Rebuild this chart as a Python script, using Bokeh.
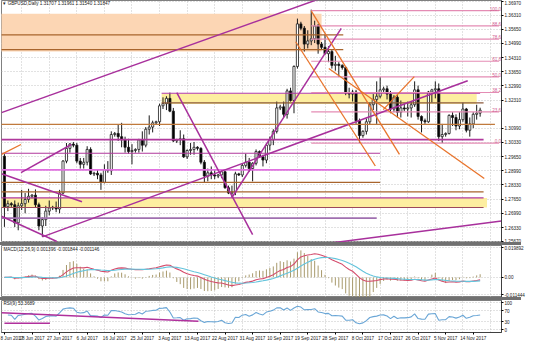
import numpy as np
from bokeh.plotting import figure
from bokeh.layouts import column
from bokeh.models import ColumnDataSource, FixedTicker, Range1d, Label, Spacer, NumeralTickFormatter
from bokeh.embed import file_html
from bokeh.resources import INLINE
from bokeh.core.properties import value

# ---------------- data (GBPUSD daily) ----------------
opens = [1.2968,1.2731,1.2745,1.2740,1.2655,1.2735,1.2745,1.2765,1.2780,1.2785,
         1.2740,1.2640,1.2670,1.2710,1.2725,1.2728,1.2720,1.2795,1.2945,1.3005,
         1.3025,1.3020,1.2945,1.2930,1.2940,1.3000,1.2885,1.2888,1.2880,1.2845,
         1.2905,1.2900,1.3070,1.3075,1.3060,1.3045,1.3010,1.2990,1.2995,1.3000,
         1.3045,1.3020,1.3095,1.3105,1.3125,1.3130,1.3205,1.3215,1.3240,1.3180,
         1.3040,1.3045,1.3050,1.2965,1.2995,1.3000,1.3010,1.3005,1.2940,1.2875,
         1.2890,1.2880,1.2875,1.2880,1.2895,1.2820,1.2795,1.2800,1.2885,1.2880,
         1.2925,1.2940,1.2910,1.2935,1.2990,1.2965,1.2950,1.3020,1.3045,1.3085,
         1.3195,1.3200,1.3165,1.3275,1.3230,1.3390,1.3590,1.3570,1.3495,1.3510,
         1.3520,1.3580,1.3495,1.3480,1.3450,1.3460,1.3395,1.3400,1.3395,1.3385,
         1.3265,1.3260,1.3270,1.3135,1.3065,1.3085,1.3130,1.3210,1.3235,1.3250,
         1.3280,1.3285,1.3260,1.3190,1.3245,1.3175,1.3195,1.3190,1.3195,1.3210,
         1.3280,1.3155,1.3135,1.3130,1.3270,1.3280,1.3285,1.3060,1.3070,1.3075,
         1.3160,1.3150,1.3110,1.3140,1.3190,1.3090,1.3120,1.3165,1.31707]
highs = [1.2978,1.2760,1.2752,1.2760,1.2750,1.2810,1.2795,1.2815,1.2790,1.2812,
         1.2750,1.2680,1.2735,1.2760,1.2735,1.2755,1.2810,1.2950,1.3030,1.3030,
         1.3035,1.3030,1.2960,1.2960,1.3015,1.3010,1.2895,1.2905,1.2890,1.2930,
         1.2945,1.3085,1.3082,1.3115,1.3125,1.3060,1.3050,1.3025,1.3005,1.3050,
         1.3085,1.3105,1.3160,1.3135,1.3135,1.3215,1.3245,1.3250,1.3267,1.3195,
         1.3050,1.3090,1.3070,1.3000,1.3030,1.3035,1.3015,1.3010,1.2950,1.2910,
         1.2920,1.2905,1.2885,1.2905,1.2900,1.2830,1.2830,1.2895,1.2890,1.2935,
         1.2980,1.2960,1.2940,1.3000,1.2995,1.2975,1.3030,1.3060,1.3095,1.3225,
         1.3210,1.3225,1.3285,1.3290,1.3395,1.3615,1.3600,1.3580,1.3560,1.3657,
         1.3605,1.3590,1.3505,1.3540,1.3485,1.3470,1.3440,1.3410,1.3400,1.3390,
         1.3290,1.3280,1.3280,1.3145,1.3090,1.3145,1.3220,1.3260,1.3320,1.3340,
         1.3295,1.3300,1.3275,1.3255,1.3255,1.3230,1.3215,1.3225,1.3225,1.3320,
         1.3300,1.3160,1.3145,1.3275,1.3285,1.3320,1.3310,1.3120,1.3080,1.3165,
         1.3175,1.3165,1.3175,1.3220,1.3195,1.3150,1.3175,1.3210,1.31961]
lows =  [1.2636,1.2710,1.2730,1.2635,1.2620,1.2715,1.2700,1.2750,1.2770,1.2725,
         1.2620,1.2589,1.2640,1.2690,1.2715,1.2705,1.2700,1.2790,1.2935,1.2985,
         1.3010,1.2935,1.2910,1.2910,1.2925,1.2880,1.2875,1.2860,1.2810,1.2840,
         1.2890,1.2880,1.3060,1.3040,1.3010,1.2985,1.2980,1.2930,1.2985,1.2985,
         1.2990,1.3010,1.3070,1.3080,1.3115,1.3110,1.3190,1.3185,1.3175,1.3035,
         1.3030,1.3020,1.2960,1.2955,1.2975,1.2975,1.2995,1.2930,1.2845,1.2850,
         1.2860,1.2860,1.2865,1.2865,1.2815,1.2790,1.2774,1.2785,1.2875,1.2870,
         1.2915,1.2895,1.2850,1.2925,1.2960,1.2920,1.2935,1.2995,1.3020,1.3075,
         1.3185,1.3150,1.3145,1.3225,1.3170,1.3380,1.3560,1.3460,1.3475,1.3490,
         1.3500,1.3450,1.3470,1.3445,1.3410,1.3380,1.3370,1.3340,1.3375,1.3255,
         1.3240,1.3225,1.3120,1.3030,1.3055,1.3070,1.3115,1.3185,1.3120,1.3240,
         1.3270,1.3235,1.3170,1.3175,1.3150,1.3150,1.3180,1.3155,1.3150,1.3200,
         1.3140,1.3080,1.3120,1.3125,1.3220,1.3240,1.3040,1.3030,1.3060,1.3070,
         1.3110,1.3090,1.3095,1.3130,1.3080,1.3060,1.3100,1.3140,1.31540]
closes = [1.2731,1.2745,1.2740,1.2655,1.2735,1.2745,1.2765,1.2780,1.2785,1.2740,
          1.2640,1.2670,1.2710,1.2725,1.2728,1.2720,1.2795,1.2945,1.3005,1.3025,
          1.3020,1.2945,1.2930,1.2940,1.3000,1.2885,1.2888,1.2880,1.2845,1.2905,
          1.2900,1.3070,1.3075,1.3060,1.3045,1.3010,1.2990,1.2995,1.3000,1.3045,
          1.3020,1.3095,1.3105,1.3125,1.3130,1.3205,1.3215,1.3240,1.3180,1.3040,
          1.3045,1.3050,1.2965,1.2995,1.3000,1.3010,1.3005,1.2940,1.2875,1.2890,
          1.2880,1.2875,1.2880,1.2895,1.2820,1.2795,1.2800,1.2885,1.2880,1.2925,
          1.2940,1.2910,1.2935,1.2990,1.2965,1.2950,1.3020,1.3045,1.3085,1.3195,
          1.3200,1.3165,1.3275,1.3230,1.3390,1.3590,1.3570,1.3495,1.3510,1.3520,
          1.3580,1.3495,1.3480,1.3450,1.3460,1.3395,1.3400,1.3395,1.3385,1.3265,
          1.3260,1.3270,1.3135,1.3065,1.3085,1.3130,1.3210,1.3235,1.3250,1.3280,
          1.3285,1.3260,1.3190,1.3245,1.3175,1.3195,1.3190,1.3195,1.3210,1.3280,
          1.3155,1.3135,1.3130,1.3270,1.3280,1.3285,1.3060,1.3070,1.3075,1.3160,
          1.3150,1.3110,1.3140,1.3190,1.3090,1.3120,1.3165,1.31707,1.31847]

x_tick_bars = [0, 8, 16, 24, 32, 40, 48, 56, 64, 72, 80, 88, 96, 104, 112, 120, 128, 136]
x_tick_labels = ["8 Jun 2017", "18 Jun 2017", "27 Jun 2017", "6 Jul 2017", "16 Jul 2017",
                 "25 Jul 2017", "3 Aug 2017", "13 Aug 2017", "22 Aug 2017", "31 Aug 2017",
                 "10 Sep 2017", "19 Sep 2017", "28 Sep 2017", "8 Oct 2017", "17 Oct 2017",
                 "26 Oct 2017", "5 Nov 2017", "14 Nov 2017"]
x_grid_bars = [5, 13, 21, 29, 37, 45, 53, 61, 69, 77, 85, 93, 101, 109, 117, 125, 133, 141]
price_ticks = [1.25670, 1.26330, 1.26990, 1.27650, 1.28330, 1.28990, 1.29650, 1.30330,
               1.30990, 1.32310, 1.32990, 1.33650, 1.34310, 1.34990, 1.35650, 1.36310, 1.36970]
last_price = 1.31847

macd_ticks = [-0.011444, 0.0, 0.019892]
macd_tick_labels = ["-0.011444", "0.00", "0.019892"]
rsi_ticks = [0, 30, 70, 100]

# drawn objects: rectangles (bar index from/to, price from/to)
rect_x0 = [-1.0, 45.6, -1.0]
rect_x1 = [92.0, 137.0, 140.0]
rect_top = [1.3638, 1.3260, 1.2772]
rect_bottom = [1.3460, 1.3214, 1.2727]

# horizontal levels (price, from bar, to bar)
hl_price = [1.3538, 1.3469, 1.3264, 1.3219, 1.3118, 1.3046, 1.2982, 1.2904, 1.2845, 1.2800, 1.2772, 1.2727, 1.2677]
hl_x0 = [-1.0, -1.0, 45.6, 45.6, -1.0, -1.0, -1.0, -1.0, -1.0, -1.0, -1.0, -1.0, -1.0]
hl_x1 = [98.3, 98.3, 138.0, 139.0, 142.3, 139.0, 109.0, 109.0, 109.0, 139.0, 139.0, 139.0, 108.0]

# trend lines (bar, price) -> (bar, price)
tl_x0 = [-0.85, 11.0, 89.3, 50.0, 66.0, -0.85, -0.85, 4.8]
tl_y0 = [1.3173, 1.2589, 1.2549, 1.3267, 1.2774, 1.2886, 1.2686, 1.2891]
tl_x1 = [93.5, 134.4, 144.2, 72.0, 97.7, 22.5, 15.2, 19.4]
tl_y1 = [1.3720, 1.3323, 1.2663, 1.2600, 1.3569, 1.2754, 1.2567, 1.3023]
otl_x0 = [89.0, 84.5, 94.1, 109.9, -0.85]
otl_y0 = [1.3651, 1.3506, 1.3380, 1.3187, 1.2977]
otl_x1 = [114.6, 107.6, 139.2, 118.9, 4.8]
otl_y1 = [1.2977, 1.2922, 1.2863, 1.3342, 1.3023]

# Fibonacci retracement (Sep 20 high -> Oct 6 low)
fib_high = 1.3652
fib_low = 1.3030
fib_ratios = [0.0, 23.6, 38.2, 50.0, 61.8, 78.6, 88.6, 100.0]
fib_start_bar = 89.0
fib_end_bar = 143.5

# RSI trend lines
rtl_x0 = [-0.85, 0.0]
rtl_y0 = [62.0, 24.0]
rtl_x1 = [56.3, 13.2]
rtl_y1 = [31.0, 24.0]

title_text = "\u25be GBPUSD,Daily  1.31707 1.31961 1.31540 1.31847"
macd_title = "MACD(12,26,9) 0.001396 -0.001844 -0.001146"
rsi_title = "RSI(9) 53.3689"

# ---------------- derived indicators ----------------
def ema(vals, n):
    a = 2.0 / (n + 1)
    out = [vals[0]]
    for v in vals[1:]:
        out.append(out[-1] + a * (v - out[-1]))
    return out

c = np.array(closes)
macd = np.array(ema(closes, 12)) - np.array(ema(closes, 26))
signal = np.array(ema(list(macd), 9))
hist = (macd - signal) * 3.0

diff = np.diff(c)
n = 9
ag = np.mean(np.clip(diff[:n], 0, None)); al = np.mean(np.clip(-diff[:n], 0, None))
rsi = [np.nan]
for d in diff:
    ag = (ag * (n - 1) + max(d, 0)) / n
    al = (al * (n - 1) + max(-d, 0)) / n
    rsi.append(100 - 100 / (1 + ag / al) if al > 0 else 100)

N = len(closes)
idx = list(range(N))
o = np.array(opens); h = np.array(highs); l = np.array(lows)
up = c >= o

FONT = "Liberation Sans"
FS = "4.6px"
GRID = "#c4c4c4"
xr = Range1d(-0.85, 144.2)

def base(frame_h, yr, bottom=0):
    f = figure(frame_width=500, frame_height=frame_h, x_range=xr, y_range=yr,
               toolbar_location=None, output_backend="svg", y_axis_location="right",
               min_border_left=1, min_border_right=20, min_border_top=0, min_border_bottom=bottom,
               background_fill_color="white", border_fill_color="white",
               outline_line_color="#808080", outline_line_width=1)
    f.yaxis.major_label_text_font = FONT
    f.yaxis.major_label_text_font_size = FS
    f.yaxis.major_label_text_color = "#202020"
    f.yaxis.major_tick_out = 2
    f.yaxis.major_tick_in = 0
    f.yaxis.minor_tick_line_color = None
    f.yaxis.major_label_standoff = 1
    f.yaxis.axis_line_color = "#404040"
    f.ygrid.grid_line_color = GRID
    f.ygrid.grid_line_dash = "1 2"
    f.xgrid.ticker = FixedTicker(ticks=x_grid_bars)
    f.xgrid.grid_line_color = GRID
    f.xgrid.grid_line_dash = "1 2"
    return f

# ---------------- main price pane ----------------
p = base(242, Range1d(1.25625, 1.37000))
p.xaxis.visible = False
p.yaxis.ticker = FixedTicker(ticks=price_ticks)
p.yaxis.formatter = NumeralTickFormatter(format="0.00000")

p.quad(left=rect_x0[:1], right=rect_x1[:1], top=rect_top[:1], bottom=rect_bottom[:1],
       fill_color="#fcd6b4", line_color=None)
p.quad(left=rect_x0[1:], right=rect_x1[1:], top=rect_top[1:], bottom=rect_bottom[1:],
       fill_color="#fdeea0", line_color=None)

hl_colors = ["#a8642c", "#a8642c", "#b0389c", "#8c5a3c", "#c07a3c", "#b0389c", "#b0389c",
             "#e070e0", "#a8642c", "#a8642c", "#b0389c", "#9c4a5c", "#a070b0"]
hl_widths = [1.3, 1.3, 1.2, 1.2, 1.2, 1.6, 1.2, 1.8, 1.2, 1.2, 1.2, 1.2, 1.6]
hsrc = ColumnDataSource(dict(x0=hl_x0, x1=hl_x1, y=hl_price, color=hl_colors, w=hl_widths))

cs = ColumnDataSource(dict(x=idx, o=o, h=h, l=l, c=c, top=np.maximum(o, c), bot=np.minimum(o, c),
                           fill=["white" if u else "black" for u in up]))
p.segment(x0="x", y0="l", x1="x", y1="h", source=cs, line_color="#1a1a1a", line_width=1)
p.vbar(x="x", top="top", bottom="bot", width=0.62, source=cs, fill_color="fill",
       line_color="#1a1a1a", line_width=0.8)

p.segment(x0="x0", y0="y", x1="x1", y1="y", source=hsrc, line_color="color", line_width="w")

fib_prices = [fib_low + r / 100.0 * (fib_high - fib_low) for r in fib_ratios]
fsrc = ColumnDataSource(dict(x0=[fib_start_bar] * len(fib_prices), x1=[fib_end_bar] * len(fib_prices),
                             y=fib_prices, t=["%.1f" % r for r in fib_ratios],
                             tx=[fib_end_bar + 0.6] * len(fib_prices)))
p.segment(x0="x0", y0="y", x1="x1", y1="y", source=fsrc, line_color="#e48cb4", line_width=1.2)
p.text(x="tx", y="y", text="t", source=fsrc, text_align="right", text_baseline="bottom",
       text_font=value(FONT), text_font_size="4.6px", text_color="#d06090")

p.segment(x0=tl_x0, y0=tl_y0, x1=tl_x1, y1=tl_y1, line_color="#a8309c", line_width=1.5)
p.segment(x0=otl_x0, y0=otl_y0, x1=otl_x1, y1=otl_y1, line_color="#e8742c", line_width=1.3)

p.add_layout(Label(x=-0.3, y=1.3688, text=title_text, text_font=FONT, text_font_size="4.6px",
                   text_color="#202020", text_baseline="middle"))
p.add_layout(Label(x=144.5, y=last_price, text="%.5f" % last_price, text_font=FONT,
                   text_font_size="4.6px", text_color="white", text_baseline="middle",
                   background_fill_color="black", x_offset=1))

# ---------------- MACD pane ----------------
pm = base(52, Range1d(-0.01333, 0.02115))
pm.xaxis.visible = False
pm.yaxis.ticker = FixedTicker(ticks=macd_ticks)
pm.yaxis.major_label_overrides = dict(zip(macd_ticks, macd_tick_labels))
msrc = ColumnDataSource(dict(x=idx, m=macd, s=signal, hh=hist, z=[0.0] * N))
pm.segment(x0="x", y0="z", x1="x", y1="hh", source=msrc, line_color="#a89a6c", line_width=1)
pm.line("x", "m", source=msrc, line_color="#d44c6c", line_width=1.1)
pm.line("x", "s", source=msrc, line_color="#64c4dc", line_width=1.1)
pm.add_layout(Label(x=-0.3, y=0.0185, text=macd_title, text_font=FONT, text_font_size="4.6px",
                    text_color="#202020", text_baseline="middle"))

# ---------------- RSI pane ----------------
pr = base(32, Range1d(-10, 107), bottom=10)
pr.yaxis.ticker = FixedTicker(ticks=rsi_ticks)
pr.xaxis.ticker = FixedTicker(ticks=x_tick_bars)
pr.xaxis.major_label_overrides = dict(zip(x_tick_bars, x_tick_labels))
pr.xaxis.major_label_text_align = "left"
pr.xaxis.major_label_text_font = FONT
pr.xaxis.major_label_text_font_size = FS
pr.xaxis.major_label_text_color = "#202020"
pr.xaxis.major_label_standoff = 1
pr.xaxis.major_tick_out = 2
pr.xaxis.major_tick_in = 0
pr.xaxis.minor_tick_line_color = None
pr.xaxis.axis_line_color = "#404040"
rsrc = ColumnDataSource(dict(x=idx, r=rsi))
pr.line("x", "r", source=rsrc, line_color="#6aa6d6", line_width=1.1)
pr.segment(x0=rtl_x0, y0=rtl_y0, x1=rtl_x1, y1=rtl_y1, line_color="#b0309c", line_width=1.5)
pr.add_layout(Label(x=-0.3, y=96, text=rsi_title, text_font=FONT, text_font_size="4.6px",
                    text_color="#202020", text_baseline="middle"))

sep1 = Spacer(width=521, height=3, styles={"background-color": "#707070"})
sep2 = Spacer(width=521, height=3, styles={"background-color": "#707070"})
layout = column(p, sep1, pm, sep2, pr, spacing=0)

open("out.html", "w").write(file_html(layout, INLINE))
